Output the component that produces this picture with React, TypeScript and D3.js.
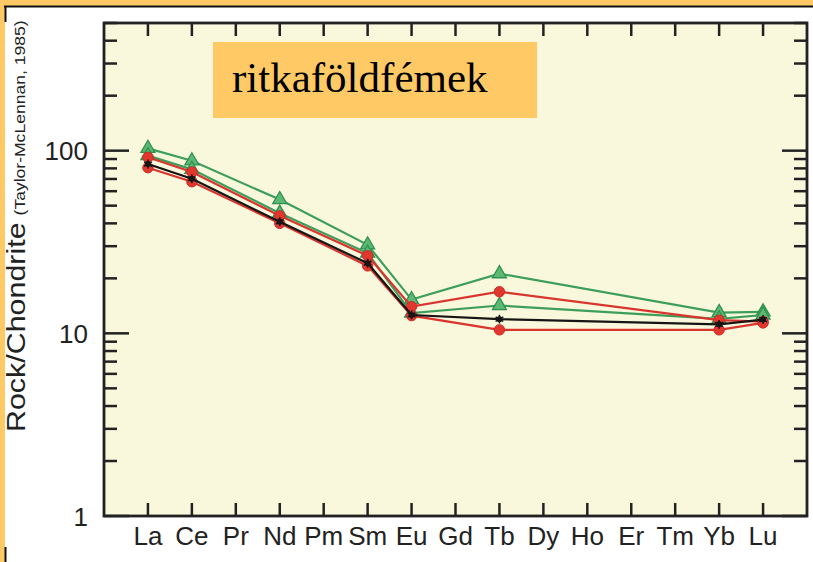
import React from "react";
import * as d3 from "d3";

const elements = ["La", "Ce", "Pr", "Nd", "Pm", "Sm", "Eu", "Gd", "Tb", "Dy", "Ho", "Er", "Tm", "Yb", "Lu"];
const yTickValues = [1, 10, 100];
const yTickLabels = ["1", "10", "100"];

const greenUpper = [103, 88, null, 54, null, 30.5, 15.3, null, 21.2, null, null, null, null, 13.0, 13.1];
const greenLower = [94, 79, null, 45.5, null, 27.5, 12.9, null, 14.2, null, null, null, null, 12.0, 12.6];
const redUpper = [92, 76.4, null, 44, null, 26.6, 14.0, null, 16.9, null, null, null, null, 11.8, 11.6];
const redLower = [80.7, 67.6, null, 40, null, 23.4, 12.5, null, 10.45, null, null, null, null, 10.45, 11.4];
const blackSeries = [84.5, 70.2, null, 40.8, null, 24.2, 12.6, null, 11.96, null, null, null, null, 11.2, 11.9];

const titleText = "ritkaföldfémek";
const yLabelMain = "Rock/Chondrite";
const yLabelSub = "(Taylor-McLennan, 1985)";

const W = 813;
const H = 562;
const left = 104, right = 807, top = 23, bottom = 516;

export default function App() {
  const x = d3.scalePoint<string>().domain(elements).range([left, right]).padding(1);
  const y = d3.scaleLog().domain([1, 500]).range([bottom, top]);

  const minor: number[] = [];
  for (const dec of [1, 10, 100]) {
    for (let k = 2; k <= 9; k++) {
      const v = dec * k;
      if (v <= 500) minor.push(v);
    }
  }

  const toPts = (arr: (number | null)[]) =>
    arr.map((v, i) => ({ el: elements[i], v })).filter((d) => d.v != null) as { el: string; v: number }[];

  const line = d3
    .line<{ el: string; v: number }>()
    .x((d) => x(d.el)!)
    .y((d) => y(d.v));

  const tri = d3.symbol(d3.symbolTriangle, 85)()!;
  const star = d3.symbol(d3.symbolAsterisk, 55)()!;

  const series = [
    { data: greenUpper, color: "#3d9e5c", kind: "tri" },
    { data: greenLower, color: "#3d9e5c", kind: "tri" },
    { data: redUpper, color: "#d9352f", kind: "circle" },
    { data: redLower, color: "#d9352f", kind: "circle" },
    { data: blackSeries, color: "#151515", kind: "star" },
  ];

  const axisColor = "#222";

  return (
    <svg
      width={W}
      height={H}
      style={{ position: "absolute", left: 0, top: 0, fontFamily: "Liberation Sans, Arial, sans-serif" }}
    >
      <rect x={0} y={0} width={W} height={H} fill="#FFC966" />
      <rect x={5} y={7} width={W - 5} height={H - 7} fill="#ffffff" />
      <line x1={4} x2={W} y1={6.5} y2={6.5} stroke="#111" strokeWidth={2} />
      <line x1={5.5} x2={5.5} y1={6} y2={22} stroke="#111" strokeWidth={2} />
      <line x1={5.5} x2={5.5} y1={547} y2={H} stroke="#111" strokeWidth={2} />

      <rect x={left} y={top} width={right - left} height={bottom - top} fill="#FAF8DC" />

      {/* title box */}
      <rect x={213} y={42} width={324} height={76} fill="#FFC966" />
      <text x={232} y={92} fontFamily="Liberation Serif, Times New Roman, serif" fontSize={43} fill="#000">
        {titleText}
      </text>

      {/* series */}
      {series.map((s, si) => {
        const pts = toPts(s.data);
        return (
          <g key={si}>
            <path d={line(pts)!} fill="none" stroke={s.color} strokeWidth={2.2} />
            {pts.map((d, i) => {
              const cx = x(d.el)!;
              const cy = y(d.v);
              if (s.kind === "tri")
                return (
                  <path key={i} d={tri} transform={`translate(${cx},${cy})`} fill="#5cb873" stroke="#2f9150" strokeWidth={1.3} />
                );
              if (s.kind === "circle")
                return <circle key={i} cx={cx} cy={cy} r={5.2} fill="#e0382f" stroke="#cf2a26" strokeWidth={1} />;
              return (
                <g key={i} transform={`translate(${cx},${cy})`}>
                  <circle r={3} fill="#151515" />
                  <path d={star} fill="#151515" stroke="#151515" strokeWidth={1.5} />
                </g>
              );
            })}
          </g>
        );
      })}

      {/* frame */}
      <rect x={left} y={top} width={right - left} height={bottom - top} fill="none" stroke={axisColor} strokeWidth={2.8} />

      {/* x ticks */}
      {elements.map((e) => (
        <g key={e}>
          <line x1={x(e)} x2={x(e)} y1={top} y2={top + 13} stroke={axisColor} strokeWidth={2.5} />
          <line x1={x(e)} x2={x(e)} y1={bottom} y2={bottom - 13} stroke={axisColor} strokeWidth={2.5} />
          <text x={x(e)} y={545} textAnchor="middle" fontSize={26} fill="#222">
            {e}
          </text>
        </g>
      ))}

      {/* y ticks */}
      {yTickValues.map((v, i) => (
        <g key={v}>
          <line x1={left} x2={left + 25} y1={y(v)} y2={y(v)} stroke={axisColor} strokeWidth={2.5} />
          <line x1={right} x2={right - 25} y1={y(v)} y2={y(v)} stroke={axisColor} strokeWidth={2.5} />
          <text x={88} y={y(v) + 9.5} textAnchor="end" fontSize={26} fill="#222">
            {yTickLabels[i]}
          </text>
        </g>
      ))}
      {minor.map((v) => (
        <g key={"m" + v}>
          <line x1={left} x2={left + 13} y1={y(v)} y2={y(v)} stroke={axisColor} strokeWidth={2.5} />
          <line x1={right} x2={right - 13} y1={y(v)} y2={y(v)} stroke={axisColor} strokeWidth={2.5} />
        </g>
      ))}

      {/* y label */}
      <text transform={`translate(24.5,432) rotate(-90) scale(1.17,1)`} fontSize={26} fill="#222">
        {yLabelMain}
        <tspan fontSize={15} dx={6}>
          {yLabelSub}
        </tspan>
      </text>
    </svg>
  );
}
